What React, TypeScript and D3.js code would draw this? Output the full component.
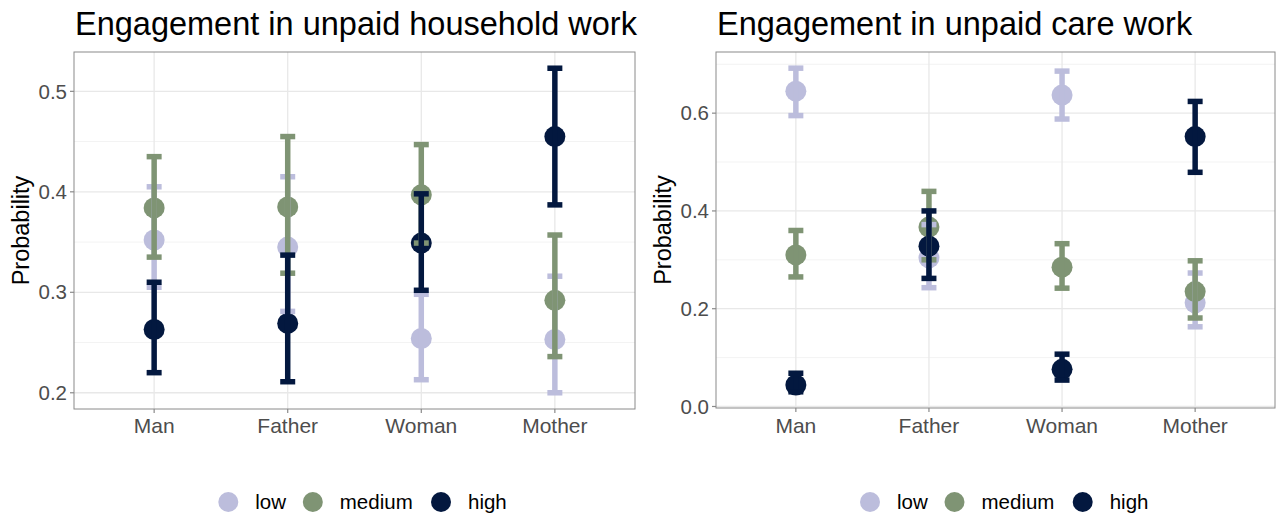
import React from "react";
import * as d3 from "d3";

const categories = ["Man", "Father", "Woman", "Mother"];
const levels = ["low", "medium", "high"];
const levelColors = ["#bcbddc", "#7f9474", "#03183f"];

// Engagement in unpaid household work
const hhLowEst = [0.352, 0.345, 0.254, 0.253];
const hhLowLo = [0.305, 0.281, 0.213, 0.2];
const hhLowHi = [0.405, 0.415, 0.298, 0.316];
const hhMedEst = [0.384, 0.385, 0.397, 0.292];
const hhMedLo = [0.335, 0.319, 0.349, 0.236];
const hhMedHi = [0.435, 0.455, 0.447, 0.357];
const hhHighEst = [0.263, 0.269, 0.349, 0.455];
const hhHighLo = [0.22, 0.211, 0.302, 0.387];
const hhHighHi = [0.31, 0.337, 0.398, 0.523];
const hhTicks = [0.2, 0.3, 0.4, 0.5];
const hhMinor = [0.25, 0.35, 0.45];

// Engagement in unpaid care work
const cwLowEst = [0.645, 0.304, 0.637, 0.212];
const cwLowLo = [0.595, 0.243, 0.588, 0.163];
const cwLowHi = [0.692, 0.372, 0.686, 0.273];
const cwMedEst = [0.31, 0.367, 0.285, 0.235];
const cwMedLo = [0.265, 0.3, 0.242, 0.181];
const cwMedHi = [0.36, 0.44, 0.333, 0.298];
const cwHighEst = [0.044, 0.328, 0.076, 0.552];
const cwHighLo = [0.03, 0.262, 0.054, 0.479];
const cwHighHi = [0.068, 0.4, 0.107, 0.624];
const cwTicks = [0.0, 0.2, 0.4, 0.6];
const cwMinor = [0.1, 0.3, 0.5, 0.7];

const FONT = "'Liberation Sans', Arial, sans-serif";

type Series = { est: number[]; lo: number[]; hi: number[] };

function Panel(props: {
  title: string;
  series: Series[];
  ticks: number[];
  minor: number[];
  x0: number;
  x1: number;
  y0: number;
  y1: number;
  fmt: (v: number) => string;
  legendX: number;
}) {
  const { title, series, ticks, minor, x0, x1, y0, y1, fmt, legendX } = props;
  const all = series.flatMap((s) => [...s.lo, ...s.hi]);
  const mn = d3.min(all)!;
  const mx = d3.max(all)!;
  const ex = (mx - mn) * 0.05;
  const y = d3.scaleLinear().domain([mn - ex, mx + ex]).range([y1, y0]);
  const x = d3.scalePoint<string>().domain(categories).range([x0, x1]).padding(0.6);
  const capHalf = 7.5;
  const lw = 5.5;
  const r = 10.5;
  const legendOffsets = [0, 84.5, 212.7];
  return (
    <g>
      <text x={x0 + 1} y={35} fontSize={32.5} fill="#000" fontFamily={FONT}>
        {title}
      </text>
      <rect x={x0} y={y0} width={x1 - x0} height={y1 - y0} fill="#fff" />
      {minor.filter((v) => y(v) > y0 && y(v) < y1).map((v) => (
        <line key={"mn" + v} x1={x0} x2={x1} y1={y(v)} y2={y(v)} stroke="#f3f3f3" strokeWidth={1} />
      ))}
      {ticks.map((v) => (
        <line key={"mj" + v} x1={x0} x2={x1} y1={y(v)} y2={y(v)} stroke="#e8e8e8" strokeWidth={1.3} />
      ))}
      {categories.map((c) => (
        <line key={"vx" + c} x1={x(c)} x2={x(c)} y1={y0} y2={y1} stroke="#e8e8e8" strokeWidth={1.3} />
      ))}
      {series.map((s, si) =>
        categories.map((c, i) => (
          <circle key={"p" + si + c} cx={x(c)} cy={y(s.est[i])} r={r} fill={levelColors[si]} />
        ))
      )}
      {series.map((s, si) =>
        categories.map((c, i) => {
          const cx = x(c)!;
          return (
            <g key={"e" + si + c} stroke={levelColors[si]} strokeWidth={lw}>
              <line x1={cx} x2={cx} y1={y(s.lo[i])} y2={y(s.hi[i])} />
              <line x1={cx - capHalf} x2={cx + capHalf} y1={y(s.lo[i])} y2={y(s.lo[i])} />
              <line x1={cx - capHalf} x2={cx + capHalf} y1={y(s.hi[i])} y2={y(s.hi[i])} />
            </g>
          );
        })
      )}
      <rect x={x0} y={y0} width={x1 - x0} height={y1 - y0} fill="none" stroke="#8a8a8a" strokeWidth={1} />
      {ticks.map((v) => (
        <g key={"yt" + v}>
          <line x1={x0 - 4} x2={x0} y1={y(v)} y2={y(v)} stroke="#8a8a8a" strokeWidth={1.2} />
          <text x={x0 - 7} y={y(v)} dy="0.35em" textAnchor="end" fontSize={20.5} fill="#4d4d4d" fontFamily={FONT}>
            {fmt(v)}
          </text>
        </g>
      ))}
      {categories.map((c) => (
        <g key={"xt" + c}>
          <line x1={x(c)} x2={x(c)} y1={y1} y2={y1 + 4} stroke="#8a8a8a" strokeWidth={1.2} />
          <text x={x(c)} y={433} textAnchor="middle" fontSize={21} fill="#4d4d4d" fontFamily={FONT}>
            {c}
          </text>
        </g>
      ))}
      <text
        transform={`translate(${x0 - 45},${(y0 + y1) / 2}) rotate(-90)`}
        textAnchor="middle"
        fontSize={23.5}
        fill="#000"
        fontFamily={FONT}
      >
        Probability
      </text>
      {levels.map((l, i) => (
        <g key={"lg" + l}>
          <circle cx={legendX + legendOffsets[i]} cy={502} r={10} fill={levelColors[i]} />
          <text x={legendX + legendOffsets[i] + 27} y={509} fontSize={20.5} fill="#000" fontFamily={FONT}>
            {l}
          </text>
        </g>
      ))}
    </g>
  );
}

export default function App() {
  const hh: Series[] = [
    { est: hhLowEst, lo: hhLowLo, hi: hhLowHi },
    { est: hhMedEst, lo: hhMedLo, hi: hhMedHi },
    { est: hhHighEst, lo: hhHighLo, hi: hhHighHi },
  ];
  const cw: Series[] = [
    { est: cwLowEst, lo: cwLowLo, hi: cwLowHi },
    { est: cwMedEst, lo: cwMedLo, hi: cwMedHi },
    { est: cwHighEst, lo: cwHighLo, hi: cwHighHi },
  ];
  return (
    <svg width={1276} height={515} style={{ position: "absolute", left: 0, top: 0 }}>
      <rect width={1276} height={515} fill="#fff" />
      <Panel
        title="Engagement in unpaid household work"
        series={hh}
        ticks={hhTicks}
        minor={hhMinor}
        x0={74}
        x1={635}
        y0={52}
        y1={409}
        fmt={d3.format(".1f")}
        legendX={228.3}
      />
      <Panel
        title="Engagement in unpaid care work"
        series={cw}
        ticks={cwTicks}
        minor={cwMinor}
        x0={716}
        x1={1275}
        y0={52}
        y1={408}
        fmt={d3.format(".1f")}
        legendX={870}
      />
    </svg>
  );
}
